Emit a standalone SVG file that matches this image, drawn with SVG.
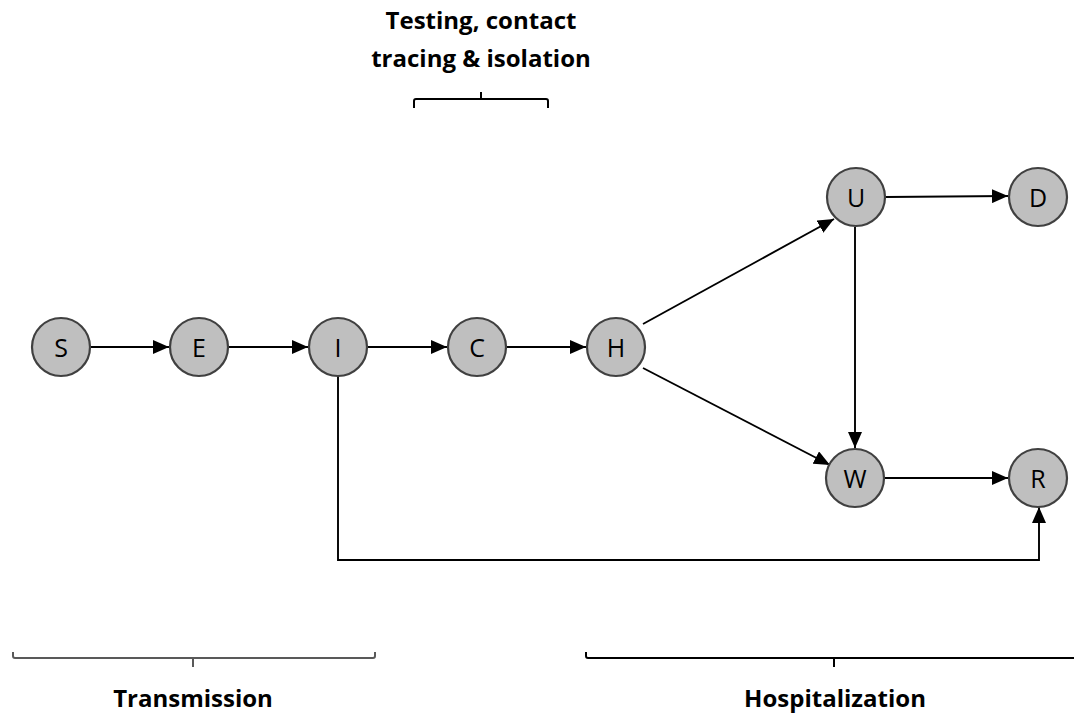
<svg xmlns="http://www.w3.org/2000/svg" width="1074" height="717" viewBox="0 0 1074 717">
<style>
.node circle{fill:#bfbfbf;stroke:#404040;stroke-width:2.2}
.node text{font-family:"Open Sans","DejaVu Sans",sans-serif;font-size:25px;fill:#000;text-anchor:middle;dominant-baseline:central}
.edge{fill:none;stroke:#000;stroke-width:1.9}
.title{font-family:"Open Sans","Liberation Sans",sans-serif;font-weight:bold;font-size:24px;text-anchor:middle;fill:#000}
.brace{fill:none;stroke-width:2}
</style>
<defs>
<marker id="arr" viewBox="0 0 16 14" refX="16" refY="7" markerWidth="16" markerHeight="14" markerUnits="userSpaceOnUse" orient="auto">
<path d="M0,0 L16,7 L0,14 Z" fill="#000"/>
</marker>
</defs>
<rect width="1074" height="717" fill="#fff"/>
<g id="connectors">
<line class="edge" x1="90" y1="347" x2="169" y2="347" marker-end="url(#arr)"/>
<line class="edge" x1="229" y1="347" x2="308" y2="347" marker-end="url(#arr)"/>
<line class="edge" x1="368" y1="347" x2="447" y2="347" marker-end="url(#arr)"/>
<line class="edge" x1="507" y1="347" x2="586" y2="347" marker-end="url(#arr)"/>
<line class="edge" x1="643" y1="324" x2="834" y2="219" marker-end="url(#arr)"/>
<line class="edge" x1="643" y1="368" x2="830" y2="465" marker-end="url(#arr)"/>
<line class="edge" x1="886" y1="197" x2="1008" y2="196" marker-end="url(#arr)"/>
<line class="edge" x1="855" y1="227" x2="855" y2="448" marker-end="url(#arr)"/>
<line class="edge" x1="885" y1="478" x2="1008" y2="478" marker-end="url(#arr)"/>
<polyline class="edge" points="338,376 338,560 1039,560 1039,507" marker-end="url(#arr)"/>
</g>
<g id="node-S" class="node"><circle cx="61" cy="347" r="29"/><text x="61" y="347">S</text></g>
<g id="node-E" class="node"><circle cx="199" cy="347" r="29"/><text x="199" y="347">E</text></g>
<g id="node-I" class="node"><circle cx="338" cy="347" r="29"/><text x="338" y="347">I</text></g>
<g id="node-C" class="node"><circle cx="477" cy="347" r="29"/><text x="477" y="347">C</text></g>
<g id="node-H" class="node"><circle cx="616" cy="347" r="29"/><text x="616" y="347">H</text></g>
<g id="node-U" class="node"><circle cx="856" cy="197" r="29"/><text x="856" y="197">U</text></g>
<g id="node-D" class="node"><circle cx="1038" cy="197" r="29"/><text x="1038" y="197">D</text></g>
<g id="node-W" class="node"><circle cx="855" cy="478" r="29"/><text x="855" y="478">W</text></g>
<g id="node-R" class="node"><circle cx="1038" cy="478" r="29"/><text x="1038" y="478">R</text></g>
<g id="testing">
<text class="title" x="481" y="29">Testing, contact</text>
<text class="title" x="481" y="67">tracing &amp; isolation</text>
<path class="brace" stroke="#000" d="M414,108 V101 Q414,99 416,99 H546 Q548,99 548,101 V108 M481,99 V92"/>
</g>
<g id="transmission">
<path class="brace" stroke="#595959" d="M13,652 V656 Q13,658 15,658 H373 Q375,658 375,656 V652 M193,658 V667"/>
<text class="title" x="193" y="707">Transmission</text>
</g>
<g id="hospitalization">
<path class="brace" stroke="#000" d="M586,652 V656 Q586,658 588,658 H1074 M834,658 V667"/>
<text class="title" x="835" y="707">Hospitalization</text>
</g>
</svg>
